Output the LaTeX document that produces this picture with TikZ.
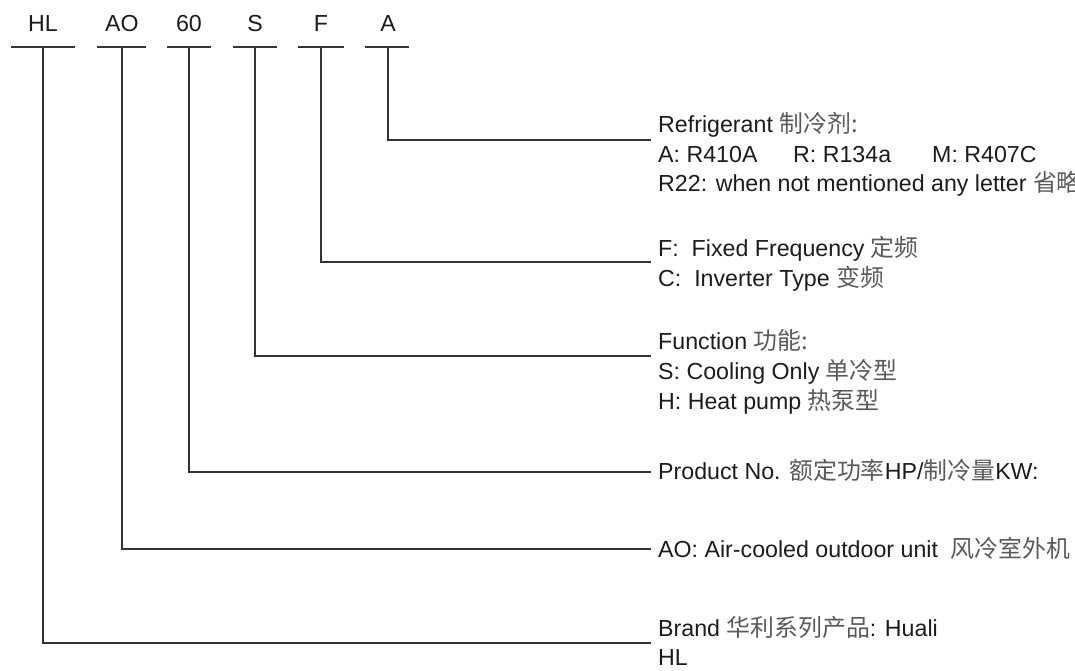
\documentclass[tikz,border=0pt]{standalone}
\usepackage{fontspec}
\setmainfont{Liberation Sans}
\newfontfamily\cjk[Scale=1.03]{Noto Sans CJK SC}
\definecolor{ink}{HTML}{1C1C1C}
\definecolor{linec}{HTML}{333333}
\definecolor{cjkc}{HTML}{5A5A5A}
\newcommand{\zh}[1]{{\cjk\color{cjkc}#1}}
\begin{document}
\begin{tikzpicture}[x=1pt,y=-1pt,
  lbl/.style={font=\fontsize{23.2}{28}\selectfont, text=ink, inner sep=0pt, anchor=base west},
  code/.style={font=\fontsize{23.2}{28}\selectfont, text=ink, inner sep=0pt, anchor=base},
  wire/.style={draw=linec, line width=2pt},
  bar/.style={draw=linec, line width=2pt},
]
\useasboundingbox (0,0) rectangle (1075,671);
\clip (0,0) rectangle (1075,671);
\fill[white] (0,0) rectangle (1075,671);

% code letters
\node[code] (cHL) at (43,32) {HL};
\node[code] (cAO) at (122,32) {AO};
\node[code] (c60) at (189,32) {60};
\node[code] (cS)  at (255,32) {S};
\node[code] (cF)  at (321,32) {F};
\node[code] (cA)  at (388,32) {A};

% underline bars
\coordinate (bHLl) at (11,47);  \coordinate (bHLr) at (75,47);
\coordinate (bAOl) at (97,47);  \coordinate (bAOr) at (146,47);
\coordinate (b60l) at (167,47); \coordinate (b60r) at (211,47);
\coordinate (bSl)  at (233,47); \coordinate (bSr)  at (277,47);
\coordinate (bFl)  at (298,47); \coordinate (bFr)  at (344,47);
\coordinate (bAl)  at (365,47); \coordinate (bAr)  at (409,47);
\draw[bar] (bHLl) -- (bHLr);
\draw[bar] (bAOl) -- (bAOr);
\draw[bar] (b60l) -- (b60r);
\draw[bar] (bSl) -- (bSr);
\draw[bar] (bFl) -- (bFr);
\draw[bar] (bAl) -- (bAr);

% connector start points (bar centres) and end points
\coordinate (tHL) at (43,47);  \coordinate (eHL) at (651,643);
\coordinate (tAO) at (122,47); \coordinate (eAO) at (651,549);
\coordinate (t60) at (189,47); \coordinate (e60) at (651,472);
\coordinate (tS)  at (255,47); \coordinate (eS)  at (651,356);
\coordinate (tF)  at (321,47); \coordinate (eF)  at (651,262);
\coordinate (tA)  at (388,47); \coordinate (eA)  at (651,140);
\draw[wire] (tHL) |- (eHL);
\draw[wire] (tAO) |- (eAO);
\draw[wire] (t60) |- (e60);
\draw[wire] (tS)  |- (eS);
\draw[wire] (tF)  |- (eF);
\draw[wire] (tA)  |- (eA);

% Refrigerant block
\node[lbl] (ref1) at (658,133) {Refrigerant \zh{制冷剂:}};
\node[lbl] (ref2a) at (658,163) {A: R410A};
\node[lbl] (ref2b) at (793,163) {R: R134a};
\node[lbl] (ref2c) at (932,163) {M: R407C};
\node[lbl] (ref3) at (658,192) {R22: when not mentioned any letter \zh{省略}};

% Frequency block
\node[lbl] (frq1) at (658,256) {F:\ \ Fixed Frequency \zh{定频}};
\node[lbl] (frq2) at (658,286) {C:\ \ Inverter Type \zh{变频}};

% Function block
\node[lbl] (fun1) at (658,349) {Function \zh{功能:}};
\node[lbl] (fun2) at (658,379) {S: Cooling Only \zh{单冷型}};
\node[lbl] (fun3) at (658,409) {H: Heat pump \zh{热泵型}};

% Product No.
\node[lbl] (prod) at (658,479) {Product No. \zh{额定功率}HP/\zh{制冷量}KW:};

% AO
\node[lbl] (ao) at (658,557) {AO: Air-cooled outdoor unit\ \ \zh{风冷室外机}};

% Brand
\node[lbl] (brand1) at (658,636) {Brand \zh{华利系列产品}: Huali};
\node[lbl] (brand2) at (658,665) {HL};
\end{tikzpicture}
\end{document}
